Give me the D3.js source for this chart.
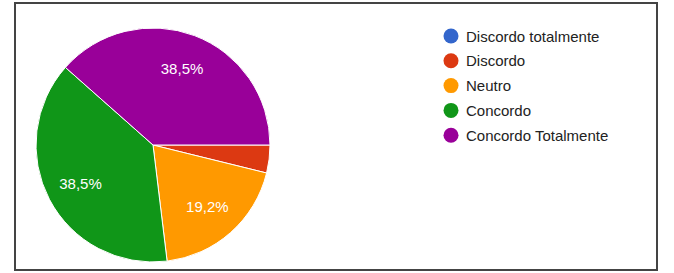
<!DOCTYPE html>
<html lang="pt">
<head>
<meta charset="UTF-8">
<title>Pie chart</title>
<style>
  body { margin: 0; padding: 0; background: #fff; font-family: Arial, "Liberation Sans", sans-serif; }
  svg { display: block; }
</style>
</head>
<body>
<svg id="chart"></svg>
<script src="https://cdnjs.cloudflare.com/ajax/libs/d3/7.8.5/d3.min.js"></script>
<script>
// data
const categories = ["Discordo totalmente", "Discordo", "Neutro", "Concordo", "Concordo Totalmente"];
const counts = [0, 1, 5, 10, 10];
const colors = ["#3366cc", "#dc3912", "#ff9900", "#109618", "#990099"];

const width = 674, height = 273;
const cx = 153, cy = 145, radius = 117;

const svg = d3.select("#chart").attr("width", width).attr("height", height);

// frame
svg.append("rect")
  .attr("x", 15).attr("y", 3)
  .attr("width", 642).attr("height", 267)
  .attr("fill", "#fff")
  .attr("stroke", "#444")
  .attr("stroke-width", 2);

const total = d3.sum(counts);
const color = d3.scaleOrdinal().domain(categories).range(colors);

const pie = d3.pie()
  .sort(null)
  .value(d => d.value)
  .startAngle(Math.PI / 2)
  .endAngle(Math.PI / 2 + 2 * Math.PI);

const arcs = pie(categories.map((c, i) => ({ name: c, value: counts[i] })));

const arc = d3.arc().innerRadius(0).outerRadius(radius);
const labelArc = d3.arc().innerRadius(radius * 0.7).outerRadius(radius * 0.7);

const g = svg.append("g").attr("transform", `translate(${cx},${cy})`);

g.selectAll("path")
  .data(arcs.filter(d => d.value > 0))
  .join("path")
  .attr("d", arc)
  .attr("fill", d => color(d.data.name))
  .attr("stroke", "#fff")
  .attr("stroke-width", 1);

const fmt = v => (v * 100).toFixed(1).replace(".", ",") + "%";

g.selectAll("text")
  .data(arcs.filter(d => d.value / total > 0.05))
  .join("text")
  .attr("transform", d => `translate(${labelArc.centroid(d)})`)
  .attr("text-anchor", "middle")
  .attr("dominant-baseline", "central")
  .attr("fill", "#fff")
  .attr("font-size", 15)
  .text(d => fmt(d.value / total));

// legend
const legend = svg.append("g").attr("transform", "translate(451,36)");
const item = legend.selectAll("g")
  .data(categories)
  .join("g")
  .attr("transform", (d, i) => `translate(0,${i * 24.8})`);

item.append("circle")
  .attr("r", 7.5)
  .attr("fill", d => color(d));

item.append("text")
  .attr("x", 15)
  .attr("dominant-baseline", "central")
  .attr("font-size", 15)
  .attr("fill", "#222")
  .text(d => d);
</script>
</body>
</html>
